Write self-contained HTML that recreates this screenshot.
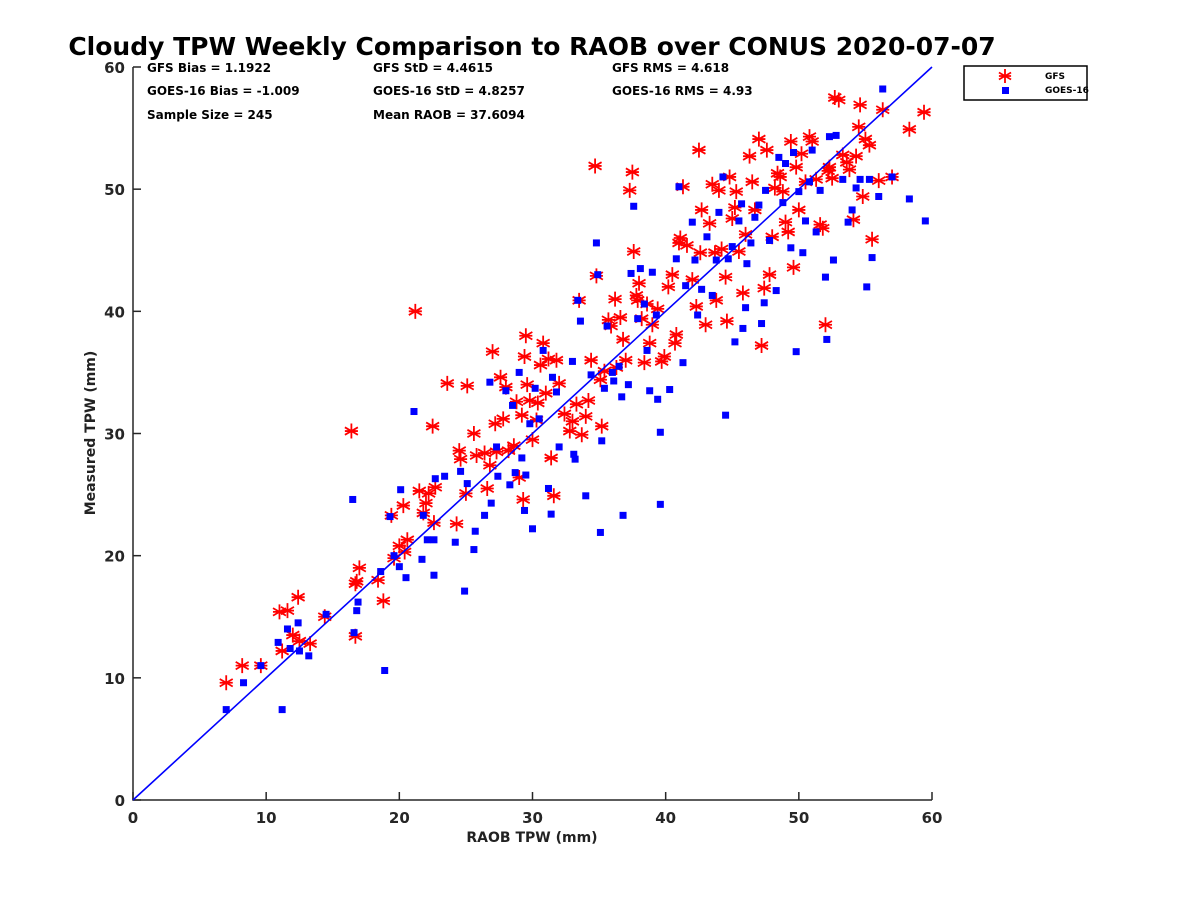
<!DOCTYPE html>
<html><head><meta charset="utf-8">
<style>
html,body{margin:0;padding:0;background:#fff;}
svg{display:block;font-family:"DejaVu Sans","Liberation Sans",sans-serif;font-weight:bold;}
</style></head>
<body>
<svg id="chart" width="1200" height="900" viewBox="0 0 1200 900">
<rect width="1200" height="900" fill="#fff"/>
<text x="532" y="55" text-anchor="middle" font-size="25" fill="#000">Cloudy TPW Weekly Comparison to RAOB over CONUS 2020-07-07</text>
<g font-size="12" fill="#000">
<text x="147" y="72">GFS Bias = 1.1922</text>
<text x="147" y="95">GOES-16 Bias = -1.009</text>
<text x="147" y="119">Sample Size = 245</text>
<text x="373" y="72">GFS StD = 4.4615</text>
<text x="373" y="95">GOES-16 StD = 4.8257</text>
<text x="373" y="119">Mean RAOB = 37.6094</text>
<text x="612" y="72">GFS RMS = 4.618</text>
<text x="612" y="95">GOES-16 RMS = 4.93</text>
</g>
<g id="plot"></g>
<g>
<rect x="964" y="66" width="123" height="34" fill="#fff" stroke="#000" stroke-width="1.5"/>
<g id="legstar"></g>
<rect x="1002" y="87" width="7" height="7" fill="#0000ff"/>
<text x="1045" y="79" font-size="9">GFS</text>
<text x="1045" y="93" font-size="9">GOES-16</text>
</g>
<text x="532" y="842" text-anchor="middle" font-size="14" fill="#222">RAOB TPW (mm)</text>
<text transform="translate(95,433) rotate(-90)" text-anchor="middle" font-size="14" fill="#222">Measured TPW (mm)</text>
</svg>
<script>
const xTicks=[0,10,20,30,40,50,60];
const yTicks=[0,10,20,30,40,50,60];
const gfsX=[7,8.2,9.6,11,11.6,11.2,12,12.4,12.5,13.3,14.4,16.4,16.7,16.7,16.8,17,18.4,18.8,19.4,19.6,20,20.3,20.4,20.6,21.2,21.5,21.8,22,22.2,22.5,22.6,22.7,23.6,24.3,24.5,24.6,25,25.1,25.6,25.8,26.4,26.6,26.8,27,27.2,27.3,27.6,27.8,28,28.2,28.6,28.8,29,29.2,29.3,29.5,29.4,29.6,29.8,30,30.3,30.4,30.6,30.8,31,31.2,31.4,31.6,31.8,32,32.4,32.8,33,33.3,33.5,33.7,34,34.2,34.4,34.7,34.8,35.1,35.2,35.4,35.7,35.9,36.2,36.3,36.6,36.8,37,37.3,37.5,37.6,37.8,37.9,38,38.2,38.4,38.6,38.8,39,39.4,39.7,39.9,40.2,40.5,40.7,40.8,41,41.1,41.3,41.6,42,42.3,42.5,42.6,42.7,43,43.3,43.5,43.8,44,44.2,44.5,44.6,44.8,45,45.2,45.5,45.8,46,46.3,46.5,46.7,47,47.2,47.4,47.6,47.8,48,48.2,48.4,48.8,49,49.2,49.4,49.6,49.8,50,50.2,50.5,50.8,51,51.3,51.6,51.8,52,52.2,52.5,52.7,53,53.3,53.6,53.8,54.1,54.3,54.5,54.6,54.8,55,55.3,55.5,56,56.3,57,58.3,59.4,52.3,48.6,45.3,43.7];
const gfsY=[9.6,11,11,15.4,15.5,12.2,13.5,16.6,13,12.8,15,30.2,13.4,17.7,17.9,19,18,16.3,23.3,19.8,20.8,24.1,20.3,21.3,40,25.3,23.5,24.3,25.1,30.6,22.7,25.6,34.1,22.6,28.6,27.9,25.1,33.9,30,28.2,28.4,25.5,27.4,36.7,30.8,28.5,34.6,31.2,33.8,28.6,29,32.6,26.4,31.5,24.6,38,36.3,34,32.7,29.5,31.1,32.5,35.6,37.4,33.3,36.1,28,24.9,36,34.1,31.6,30.2,31,32.4,40.9,29.9,31.4,32.7,36,51.9,42.9,34.4,30.6,35.1,39.3,38.8,41,35.4,39.5,37.7,36,49.9,51.4,44.9,41.3,40.9,42.3,39.4,35.8,40.6,37.4,38.9,40.2,35.9,36.3,42,43,37.4,38.1,45.6,46,50.2,45.4,42.6,40.4,53.2,44.8,48.3,38.9,47.2,50.4,40.9,49.9,45.1,42.8,39.2,51,47.6,48.5,44.9,41.5,46.3,52.7,50.6,48.3,54.1,37.2,41.9,53.2,43,46.1,50.1,51.3,49.8,47.3,46.5,53.9,43.6,51.8,48.3,52.9,50.6,54.3,53.9,50.8,47.1,46.8,38.9,51.5,50.9,57.5,57.3,52.8,52.2,51.6,47.5,52.7,55.1,56.9,49.4,54.1,53.6,45.9,50.7,56.5,51,54.9,56.3,51.8,51,49.8,44.8];
const goesX=[7,8.3,9.6,10.9,11.2,11.6,11.8,12.4,12.5,13.2,14.5,16.5,16.6,16.8,16.9,18.6,18.9,19.3,19.6,20,20.1,20.5,21.1,21.7,21.8,22.1,22.6,22.6,22.7,23.4,24.2,24.6,24.9,25.1,25.6,25.7,26.4,26.8,26.9,27.3,27.4,28,28.3,28.5,28.7,29,29.2,29.4,29.5,29.8,30,30.2,30.5,30.8,31.2,31.4,31.5,31.8,32,33,33.1,33.2,33.6,34,34.4,34.8,34.9,35.1,35.2,35.4,35.6,36.1,36.5,36.7,36.8,37.2,37.4,37.6,37.9,38.1,38.4,38.6,38.8,39,39.3,39.4,39.6,39.6,40.3,40.8,41,41.3,41.5,42,42.2,42.7,43.1,43.5,43.8,44,44.3,44.5,44.7,45,45.2,45.5,45.7,46,46.1,46.4,46.7,47,47.2,47.4,47.5,47.8,48.3,48.5,48.8,49,49.4,49.6,49.8,50,50.3,50.5,50.8,51,51.3,51.6,52,52.1,52.3,52.6,52.8,53.3,53.7,54,54.3,54.6,55.1,55.3,55.5,56,56.3,57,58.3,59.5,33.4,36,42.4,45.8];
const goesY=[7.4,9.6,11,12.9,7.4,14,12.4,14.5,12.2,11.8,15.2,24.6,13.7,15.5,16.2,18.7,10.6,23.2,20,19.1,25.4,18.2,31.8,19.7,23.3,21.3,18.4,21.3,26.3,26.5,21.1,26.9,17.1,25.9,20.5,22,23.3,34.2,24.3,28.9,26.5,33.5,25.8,32.3,26.8,35,28,23.7,26.6,30.8,22.2,33.7,31.2,36.8,25.5,23.4,34.6,33.4,28.9,35.9,28.3,27.9,39.2,24.9,34.8,45.6,43,21.9,29.4,33.7,38.8,34.3,35.5,33,23.3,34,43.1,48.6,39.4,43.5,40.6,36.8,33.5,43.2,39.7,32.8,24.2,30.1,33.6,44.3,50.2,35.8,42.1,47.3,44.2,41.8,46.1,41.3,44.2,48.1,51,31.5,44.3,45.3,37.5,47.4,48.8,40.3,43.9,45.6,47.7,48.7,39,40.7,49.9,45.8,41.7,52.6,48.9,52.1,45.2,53,36.7,49.8,44.8,47.4,50.6,53.2,46.5,49.9,42.8,37.7,54.3,44.2,54.4,50.8,47.3,48.3,50.1,50.8,42,50.8,44.4,49.4,58.2,51,49.2,47.4,40.9,35,39.7,38.6];

const NS='http://www.w3.org/2000/svg';
const X0=133,X1=932,Y0=800,Y1=67;
function sx(v){return X0+(v-0)/(60-0)*(X1-X0);}
function sy(v){return Y0-(v-0)/(60-0)*(Y0-Y1);}
function mk(tag,attrs,parent){const e=document.createElementNS(NS,tag);for(const k in attrs)e.setAttribute(k,attrs[k]);parent.appendChild(e);return e;}
const plot=document.getElementById('plot');

const ax=mk('path',{d:`M${X0},${Y1}L${X0},${Y0}L${X1},${Y0}`,fill:'none',stroke:'#262626','stroke-width':1.5},plot);


xTicks.forEach(t=>{
  const l=mk('line',{x1:sx(t),x2:sx(t),y1:Y0,y2:Y0-8,stroke:'#262626','stroke-width':1.5},plot);
  
  
  const tx=mk('text',{x:sx(t),y:Y0+23,'text-anchor':'middle','font-size':15,fill:'#262626'},plot);
  tx.textContent=t;
  
  
});
yTicks.forEach(t=>{
  const l=mk('line',{x1:X0,x2:X0+8,y1:sy(t),y2:sy(t),stroke:'#262626','stroke-width':1.5},plot);
  
  
  const tx=mk('text',{x:X0-8,y:sy(t)+6,'text-anchor':'end','font-size':15,fill:'#262626'},plot);
  tx.textContent=t;
  
  
});

function star(g,cx,cy,r){
  let d='';
  for(let i=0;i<3;i++){const a=Math.PI/2+i*Math.PI/3;const dx=r*Math.cos(a),dy=r*Math.sin(a);d+=`M${cx-dx},${cy-dy}L${cx+dx},${cy+dy}`;}
  d+=`M${cx-r*0.87},${cy}L${cx+r*0.87},${cy}`;
  return mk('path',{d:d,stroke:'#ff0000','stroke-width':1.8,fill:'none'},g);
}
const gG=mk('g',{},plot);


const bG=mk('g',{},plot);


for(let i=0;i<gfsX.length;i++){
  const p=star(gG,sx(gfsX[i]),sy(gfsY[i]),7.5);
  
  
}
for(let i=0;i<goesX.length;i++){
  const r=mk('rect',{x:sx(goesX[i])-3.5,y:sy(goesY[i])-3.5,width:7,height:7,fill:'#0000ff'},bG);
  
  
}
const ol=mk('line',{x1:sx(0),y1:sy(0),x2:sx(60),y2:sy(60),stroke:'#0000ff','stroke-width':1.6},plot);


const ls=star(document.getElementById('legstar'),1005,76,7);


</script>
</body></html>
